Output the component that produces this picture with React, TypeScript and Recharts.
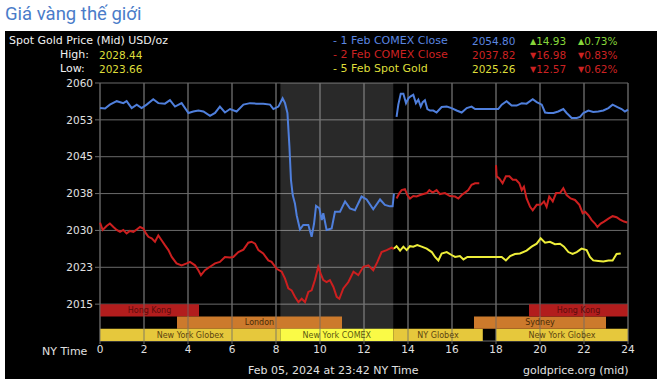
import { LineChart, Line, XAxis, YAxis, CartesianGrid, ReferenceArea, ReferenceLine } from "recharts";

type Pt = [number, number | null];

const hourTicks = [0, 2, 4, 6, 8, 10, 12, 14, 16, 18, 20, 22, 24];
const priceTicks = [2015, 2022.5, 2030, 2037.5, 2045, 2052.5, 2060];

// 1 Feb COMEX close (blue)
const feb1Comex: Pt[] = [
  [0, 2054.9], [0.23, 2054.8], [0.45, 2055.6], [0.76, 2056.3], [1.06, 2055.9], [1.21, 2056.3],
  [1.44, 2054.9], [1.67, 2055.6], [1.89, 2054.9], [2.12, 2055.6], [2.42, 2056.7], [2.65, 2055.9],
  [2.95, 2055.8], [3.18, 2056.5], [3.41, 2055.2], [3.71, 2055.9], [4.02, 2053.9], [4.24, 2054.2],
  [4.47, 2054.4], [4.7, 2054.2], [5.0, 2053.3], [5.23, 2053.9], [5.45, 2055.2], [5.68, 2054.0],
  [5.91, 2054.7], [6.21, 2054.2], [6.52, 2055.6], [6.82, 2055.9], [7.12, 2055.8], [7.42, 2055.8],
  [7.73, 2055.6], [7.88, 2054.7], [8.11, 2055.2], [8.3, 2056.9], [8.41, 2055.9], [8.52, 2053.9],
  [8.61, 2047.1], [8.68, 2040.3], [8.76, 2037.2], [8.86, 2035.5], [8.94, 2033.1], [9.09, 2030.2],
  [9.24, 2031.1], [9.47, 2031.1], [9.62, 2028.7], [9.73, 2031.4], [9.82, 2035.0], [9.97, 2034.5],
  [10.08, 2032.1], [10.15, 2033.5], [10.3, 2030.1], [10.53, 2030.4], [10.68, 2033.8], [10.91, 2033.8],
  [11.14, 2035.9], [11.36, 2034.5], [11.59, 2034.1], [11.89, 2036.9], [12.12, 2036.3], [12.42, 2034.3],
  [12.73, 2036.3], [12.95, 2035.2], [13.18, 2034.9], [13.3, 2034.9], [13.36, 2037.5], [13.42, null],
  [13.48, 2053.1], [13.56, 2055.6], [13.67, 2057.8], [13.79, 2057.8], [13.91, 2055.9], [14.02, 2056.9],
  [14.12, 2057.3], [14.24, 2057.6], [14.36, 2055.9], [14.47, 2056.6], [14.58, 2055.2], [14.67, 2056.1],
  [14.77, 2056.5], [14.88, 2054.7], [15.0, 2054.4], [15.15, 2054.4], [15.3, 2054.0], [15.53, 2055.1],
  [15.76, 2055.2], [15.98, 2054.9], [16.21, 2054.4], [16.44, 2054.0], [16.67, 2054.9], [16.89, 2055.2],
  [17.05, 2054.7], [18.1, 2054.7], [18.26, 2055.6], [18.48, 2056.3], [18.71, 2055.4], [18.94, 2055.4],
  [19.17, 2055.9], [19.39, 2055.8], [19.67, 2056.7], [19.85, 2056.1], [20.08, 2055.6], [20.23, 2054.0],
  [20.38, 2053.9], [20.61, 2053.9], [20.83, 2054.2], [21.06, 2054.7], [21.21, 2053.9], [21.44, 2052.9],
  [21.67, 2052.9], [21.82, 2053.1], [21.97, 2053.9], [22.2, 2054.4], [22.42, 2054.1], [22.65, 2054.2],
  [22.88, 2054.4], [23.11, 2054.9], [23.3, 2055.6], [23.52, 2055.1], [23.71, 2054.7], [23.86, 2054.2],
  [24, 2054.6],
];

// 2 Feb COMEX close (red)
const feb2Comex: Pt[] = [
  [0, 2031.6], [0.12, 2030.1], [0.3, 2030.9], [0.45, 2031.4], [0.61, 2030.7], [0.76, 2030.1],
  [0.91, 2029.7], [1.06, 2030.1], [1.21, 2029.4], [1.36, 2029.9], [1.52, 2029.7], [1.67, 2030.2],
  [1.82, 2030.7], [1.97, 2030.4], [2.09, 2029.4], [2.2, 2028.7], [2.35, 2028.4], [2.5, 2027.7],
  [2.65, 2029.0], [2.8, 2028.0], [2.95, 2027.0], [3.11, 2026.0], [3.26, 2024.6], [3.48, 2023.3],
  [3.71, 2022.9], [3.94, 2023.3], [4.09, 2023.6], [4.32, 2022.9], [4.47, 2021.9], [4.59, 2020.9],
  [4.77, 2021.9], [5.0, 2022.6], [5.23, 2023.3], [5.45, 2023.6], [5.68, 2024.6], [5.91, 2024.5],
  [6.06, 2024.6], [6.29, 2025.6], [6.52, 2026.1], [6.74, 2027.5], [6.89, 2027.7], [7.05, 2027.3],
  [7.2, 2026.0], [7.42, 2025.3], [7.65, 2023.9], [7.8, 2023.6], [8.03, 2022.2], [8.26, 2021.6],
  [8.41, 2020.2], [8.56, 2018.2], [8.71, 2017.8], [8.86, 2016.5], [9.02, 2015.4], [9.17, 2016.1],
  [9.32, 2015.4], [9.47, 2017.5], [9.62, 2017.8], [9.77, 2019.9], [9.92, 2022.6], [10.03, 2021.2],
  [10.15, 2019.9], [10.3, 2019.5], [10.45, 2019.9], [10.61, 2018.5], [10.76, 2016.5], [10.88, 2016.1],
  [11.06, 2018.2], [11.29, 2019.5], [11.52, 2021.6], [11.74, 2020.9], [11.97, 2022.6], [12.2, 2022.9],
  [12.42, 2021.9], [12.61, 2023.6], [12.8, 2025.6], [13.03, 2026.0], [13.26, 2026.5], [13.36, 2026.2],
  [13.42, null],
  [13.48, 2036.5], [13.61, 2037.6], [13.71, 2038.2], [13.86, 2038.4], [13.97, 2037.2], [14.09, 2036.5],
  [14.24, 2037.0], [14.39, 2036.9], [14.55, 2037.2], [14.7, 2037.4], [14.85, 2037.6], [14.97, 2038.2],
  [15.12, 2037.7], [15.3, 2038.2], [15.45, 2037.4], [15.68, 2037.6], [15.91, 2037.0], [16.14, 2036.9],
  [16.29, 2036.5], [16.44, 2037.2], [16.59, 2037.7], [16.74, 2038.2], [16.89, 2039.3], [17.05, 2039.6],
  [17.24, 2039.6], [17.6, null],
  [18.0, 2043.3], [18.03, 2041.0], [18.15, 2040.6], [18.3, 2039.6], [18.45, 2041.0], [18.61, 2041.0],
  [18.76, 2040.3], [18.91, 2040.3], [19.06, 2039.6], [19.17, 2038.2], [19.27, 2038.9], [19.39, 2036.5],
  [19.55, 2034.8], [19.67, 2034.1], [19.85, 2035.2], [20.03, 2035.2], [20.18, 2035.9], [20.3, 2034.8],
  [20.42, 2036.9], [20.58, 2035.9], [20.73, 2037.6], [20.91, 2037.6], [21.06, 2038.6], [21.21, 2037.2],
  [21.39, 2036.5], [21.59, 2036.2], [21.79, 2035.2], [21.94, 2033.5], [22.05, 2033.8], [22.2, 2033.1],
  [22.35, 2032.1], [22.5, 2031.4], [22.61, 2030.7], [22.76, 2031.4], [22.91, 2031.8], [23.11, 2032.4],
  [23.3, 2032.9], [23.48, 2032.7], [23.64, 2032.2], [23.82, 2031.8], [23.97, 2031.6],
];

// 5 Feb spot gold (yellow)
const feb5Spot: Pt[] = [
  [13.36, 2026.3], [13.48, 2026.8], [13.64, 2025.9], [13.79, 2026.7], [13.94, 2026.0], [14.09, 2026.8],
  [14.24, 2026.7], [14.42, 2027.0], [14.62, 2026.7], [14.85, 2026.3], [15.08, 2025.6], [15.23, 2024.6],
  [15.38, 2023.9], [15.53, 2025.3], [15.76, 2025.6], [15.98, 2025.0], [16.14, 2024.6], [16.36, 2024.8],
  [16.52, 2024.1], [16.7, 2024.6], [18.1, 2024.6], [18.26, 2024.6], [18.45, 2023.9], [18.64, 2024.8],
  [18.86, 2025.2], [19.09, 2025.3], [19.39, 2025.9], [19.62, 2026.7], [19.85, 2027.3], [20.03, 2028.4],
  [20.23, 2027.5], [20.45, 2027.7], [20.68, 2027.2], [20.91, 2027.3], [21.09, 2026.7], [21.29, 2025.6],
  [21.48, 2025.2], [21.67, 2025.6], [21.89, 2026.3], [22.12, 2026.0], [22.27, 2024.6], [22.42, 2023.9],
  [22.65, 2023.8], [22.88, 2023.7], [23.11, 2023.9], [23.3, 2023.9], [23.48, 2025.2], [23.67, 2025.3],
];

const sessionNames = ["Hong Kong", "London", "New York Globex", "New York COMEX", "NY Globex", "New York Globex", "Sydney", "Hong Kong"];
const sessionStart = [0, 3.5, 0, 8.2, 13.33, 18, 17, 19.5];
const sessionEnd = [4.5, 11, 8.2, 13.33, 17.4, 24, 23, 24];
const sessionRow = [0, 1, 2, 2, 2, 2, 1, 0];
const sessionKind = ["hk", "eu", "glx", "cmx", "glx", "glx", "eu", "hk"];

const rowTop = [2015, 2012.5, 2010];
const kindFill: Record<string, string> = { hk: "#b21d1d", eu: "#cc7a2c", glx: "#e6c83c", cmx: "#fafa46" };
const kindText: Record<string, string> = { hk: "#5a0c0c", eu: "#4a2a08", glx: "#5c4410", cmx: "#5a5a10" };

const toRows = (pts: Pt[]) => pts.map(([h, p]) => ({ h, p }));

const font = "'DejaVu Sans', Verdana, sans-serif";
const gridColor = "#6a6a6a";

function Txt({ x, y, color, size = 11, children }: { x: number; y: number; color: string; size?: number; children: React.ReactNode }) {
  return (
    <div style={{ position: "absolute", left: x, top: y - 7, lineHeight: "14px", fontSize: size, color, fontFamily: font, whiteSpace: "nowrap" }}>
      {children}
    </div>
  );
}

const up = <span style={{ fontSize: 8, verticalAlign: "1px" }}>▲</span>;
const down = <span style={{ fontSize: 8, verticalAlign: "1px" }}>▼</span>;

export default function App() {
  return (
    <div style={{ position: "absolute", left: 0, top: 0, width: 668, height: 387, background: "#fff", overflow: "hidden" }}>
      <div style={{ position: "absolute", left: 5, top: 3, fontSize: 18.5, lineHeight: "22px", color: "#4a7cc9", fontFamily: "Roboto, sans-serif" }}>
        Giá vàng thế giới
      </div>
      <div style={{ position: "absolute", left: 5, top: 31, width: 652, height: 348, background: "#000" }}>
        <LineChart width={652} height={348} margin={{ top: 52, right: 29, bottom: 0, left: 0 }}>
          <CartesianGrid stroke={gridColor} strokeWidth={1} />
          <ReferenceArea x1={8.2} x2={13.33} y1={2007.5} y2={2060} fill="#ffffff" fillOpacity={0.16} stroke="none" />
          {sessionNames.map((name, i) => (
            <ReferenceArea
              key={i}
              x1={sessionStart[i]}
              x2={sessionEnd[i]}
              y1={rowTop[sessionRow[i]] - 2.5}
              y2={rowTop[sessionRow[i]]}
              fill={kindFill[sessionKind[i]]}
              fillOpacity={1}
              stroke="none"
              label={{ value: name, position: "center", fill: kindText[sessionKind[i]], fontSize: 8, fontFamily: font }}
            />
          ))}
          {hourTicks.map((t) => (
            <ReferenceLine key={`v${t}`} x={t} stroke={gridColor} strokeOpacity={0.8} />
          ))}
          <XAxis
            type="number"
            dataKey="h"
            domain={[0, 24]}
            ticks={hourTicks}
            height={38}
            axisLine={false}
            tickLine={{ stroke: gridColor }}
            tickSize={3}
            tick={{ fill: "#e0e0e0", fontSize: 10.5, fontFamily: font }}
            allowDuplicatedCategory={false}
          />
          <YAxis
            type="number"
            domain={[2007.5, 2060]}
            ticks={priceTicks}
            width={95}
            axisLine={false}
            tickLine={{ stroke: gridColor }}
            tickSize={5}
            tickFormatter={(v: number) => String(Math.round(v))}
            tick={{ fill: "#e0e0e0", fontSize: 10.5, fontFamily: font }}
          />
          <Line data={toRows(feb2Comex)} dataKey="p" type="linear" stroke="#cc1f1f" strokeWidth={2} dot={false} isAnimationActive={false} />
          <Line data={toRows(feb1Comex)} dataKey="p" type="linear" stroke="#4f7fdc" strokeWidth={2} dot={false} isAnimationActive={false} />
          <Line data={toRows(feb5Spot)} dataKey="p" type="linear" stroke="#eeee3a" strokeWidth={2} dot={false} isAnimationActive={false} />
        </LineChart>
      </div>

      <Txt x={9} y={41} color="#f0f0f0">Spot Gold Price (Mid) USD/oz</Txt>
      <Txt x={60} y={55} color="#f0f0f0">High:</Txt>
      <Txt x={99} y={55} color="#dede3a" size={10.5}>2028.44</Txt>
      <Txt x={60} y={69} color="#f0f0f0">Low:</Txt>
      <Txt x={99} y={69} color="#dede3a" size={10.5}>2023.66</Txt>

      <Txt x={333} y={40.5} color="#5b86e0">- 1 Feb COMEX Close</Txt>
      <Txt x={472} y={40.5} color="#5b86e0" size={10.5}>2054.80</Txt>
      <Txt x={530} y={40.5} color="#86d63a" size={10.5}>{up}14.93</Txt>
      <Txt x={578} y={40.5} color="#86d63a" size={10.5}>{up}0.73%</Txt>

      <Txt x={333} y={54.5} color="#cc2222">- 2 Feb COMEX Close</Txt>
      <Txt x={472} y={54.5} color="#cc2222" size={10.5}>2037.82</Txt>
      <Txt x={530} y={54.5} color="#cc2222" size={10.5}>{down}16.98</Txt>
      <Txt x={578} y={54.5} color="#cc2222" size={10.5}>{down}0.83%</Txt>

      <Txt x={333} y={68.5} color="#dede3a">- 5 Feb Spot Gold</Txt>
      <Txt x={472} y={68.5} color="#dede3a" size={10.5}>2025.26</Txt>
      <Txt x={530} y={68.5} color="#cc2222" size={10.5}>{down}12.57</Txt>
      <Txt x={578} y={68.5} color="#cc2222" size={10.5}>{down}0.62%</Txt>

      <Txt x={42} y={351.5} color="#e0e0e0">NY Time</Txt>
      <Txt x={248} y={371} color="#e0e0e0">Feb 05, 2024 at 23:42 NY Time</Txt>
      <Txt x={523} y={371} color="#e0e0e0">goldprice.org (mid)</Txt>
    </div>
  );
}
